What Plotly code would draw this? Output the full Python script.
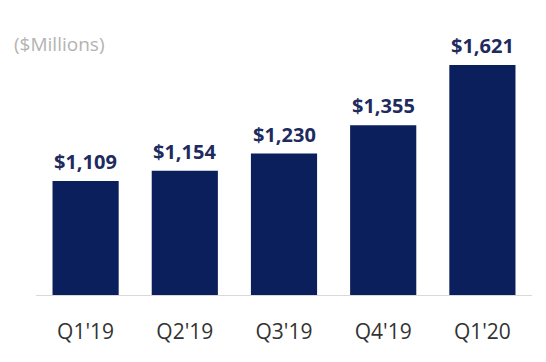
import plotly.graph_objects as go

categories = ["Q1'19", "Q2'19", "Q3'19", "Q4'19", "Q1'20"]
values = [1109, 1154, 1230, 1355, 1621]
labels = ["$1,109", "$1,154", "$1,230", "$1,355", "$1,621"]

navy = "#0b1f5c"

fig = go.Figure()
fig.add_trace(go.Bar(x=categories, y=values, marker=dict(color=navy, line=dict(width=0)),
                     hoverinfo="skip"))

for c, v, t in zip(categories, values, labels):
    fig.add_annotation(x=c, y=v, text="<b>%s</b>" % t, showarrow=False,
                       yanchor="bottom", yshift=4,
                       font=dict(family="Open Sans", size=20, color="#1d2b5e"))

fig.add_annotation(xref="paper", yref="paper", x=-0.048, y=0.947,
                   xanchor="left", yanchor="middle", text="($Millions)", showarrow=False,
                   font=dict(family="Open Sans", size=19, color="#b3b3b3"))

fig.update_layout(
    width=538, height=354,
    margin=dict(l=28, r=14, t=22, b=67),
    paper_bgcolor="white", plot_bgcolor="white",
    bargap=0.333,
    showlegend=False,
    xaxis=dict(showline=True, linecolor="#d9d9d9", linewidth=1, ticks="",
               ticklabelstandoff=18,
               tickfont=dict(family="Open Sans", size=21, color="#333333"),
               showgrid=False),
    yaxis=dict(range=[606, 1775], visible=False, showgrid=False),
)

fig.write_html("out.html")
